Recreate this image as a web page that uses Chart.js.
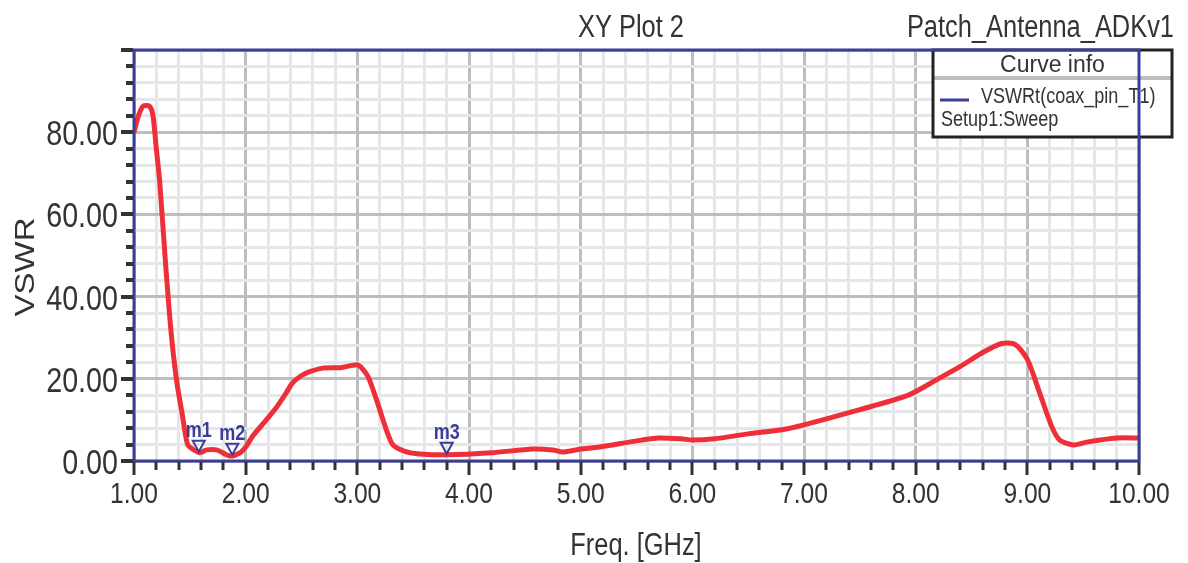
<!DOCTYPE html>
<html>
<head>
<meta charset="utf-8">
<title>XY Plot 2</title>
<script src="https://cdn.jsdelivr.net/npm/chart.js@4/dist/chart.umd.min.js"></script>
<style>
  html, body { margin: 0; padding: 0; background: #fff; }
  #wrap { width: 1188px; height: 563px; position: relative; }
</style>
</head>
<body>
<div id="wrap"><canvas id="plot"></canvas></div>
<script>
(function() {
    'use strict';

    // values
    const freqs = [1.00,1.04,1.08,1.14,1.17,1.20,1.23,1.28,1.33,1.38,1.43,1.48,1.53,1.59,1.65,1.74,1.86,1.95,2.00,2.07,2.17,2.28,2.35,2.42,2.50,2.58,2.69,2.85,3.00,3.05,3.10,3.18,3.27,3.32,3.44,3.56,3.80,4.20,4.57,4.75,4.84,5.00,5.17,5.50,5.70,5.90,6.00,6.20,6.50,6.80,7.00,7.50,7.94,8.19,8.40,8.60,8.77,8.89,9.00,9.11,9.22,9.29,9.41,9.53,9.80,10.00];
    const vswr  = [80,84,86.3,86.3,84,76,68,49,32,19.8,11.7,4.0,2.8,2.0,2.7,2.7,1.2,2.0,3.4,6.3,9.5,13.2,16,19,20.8,21.8,22.6,22.7,23.4,22.3,20.3,14.2,6.8,3.9,2.2,1.7,1.5,2.0,2.9,2.7,2.2,2.9,3.4,4.9,5.6,5.4,5.1,5.4,6.6,7.6,8.8,12.5,16.1,19.8,23,26.4,28.6,28.4,24.7,16.6,8.3,5.1,3.9,4.6,5.6,5.6];

    const markerNames = ['m1', 'm2', 'm3'];
    const markerFreqs = [1.58, 1.88, 3.80];
    const markerVals  = [2.0, 1.3, 1.5];

    const xTicks = [1, 2, 3, 4, 5, 6, 7, 8, 9, 10];
    const yTicks = [0, 20, 40, 60, 80];

    const plotTitle = 'XY Plot 2';
    const projectName = 'Patch_Antenna_ADKv1';
    const curveName = 'VSWRt(coax_pin_T1)';
    const setupName = 'Setup1:Sweep';
    const xTitle = 'Freq. [GHz]';
    const yTitle = 'VSWR';

    // no narrow font installed: squeeze Liberation Sans sideways instead
    const FONT = '"Liberation Sans", Arial, sans-serif';
    const NARROW = 0.82;
    const NAVY = '#3b3d99';
    const RED = '#ee2f3a';
    const MAJOR_GRID = '#bdbdbd';
    const MINOR_GRID = '#e5e6e8';
    const TEXT = '#333333';

    const isMajorX = v => xTicks.some(t => Math.abs(t - v) < 1e-6);
    const isMajorY = v => Math.round(v) % 20 === 0;

    function narrowText(ctx, str, x, y, font, align, sx, sy) {
        ctx.save();
        ctx.translate(x, y);
        ctx.scale(sx, sy);
        ctx.font = font;
        ctx.textAlign = align;
        ctx.textBaseline = 'alphabetic';
        ctx.fillText(str, 0, 0);
        ctx.restore();
    }

    // titles, tick labels, markers, legend box, frame and tick marks
    const decorations = {
        id: 'decorations',
        afterDatasetsDraw(chart) {
            const ctx = chart.ctx;
            const a = chart.chartArea;
            const xs = chart.scales.x, ys = chart.scales.y;
            ctx.save();

            // markers
            ctx.strokeStyle = NAVY;
            ctx.fillStyle = NAVY;
            ctx.lineWidth = 2;
            markerNames.forEach((name, i) => {
                const px = xs.getPixelForValue(markerFreqs[i]);
                const py = ys.getPixelForValue(markerVals[i]);
                ctx.beginPath();
                ctx.moveTo(px - 6, py - 12);
                ctx.lineTo(px + 6, py - 12);
                ctx.lineTo(px, py - 1);
                ctx.closePath();
                ctx.stroke();
                narrowText(ctx, name, px, py - 16, 'bold 22px ' + FONT, 'center', NARROW, 1);
            });

            // legend box
            const lx = 933, ly = 50, lw = 239, lh = 87;
            ctx.fillStyle = '#ffffff';
            ctx.fillRect(lx, ly, lw, lh);
            ctx.strokeStyle = '#bdbdbd';
            ctx.lineWidth = 4;
            ctx.beginPath();
            ctx.moveTo(lx, ly + 28);
            ctx.lineTo(lx + lw, ly + 28);
            ctx.stroke();
            ctx.strokeStyle = '#222222';
            ctx.lineWidth = 3;
            ctx.strokeRect(lx, ly, lw, lh);
            ctx.fillStyle = TEXT;
            narrowText(ctx, 'Curve info', lx + lw / 2, 72, '23px ' + FONT, 'center', 1, 1);
            narrowText(ctx, curveName, 981, 103, '22px ' + FONT, 'left', NARROW, 1);
            narrowText(ctx, setupName, 941, 126, '22px ' + FONT, 'left', NARROW, 1);
            ctx.strokeStyle = NAVY;
            ctx.lineWidth = 3;
            ctx.beginPath();
            ctx.moveTo(940, 100);
            ctx.lineTo(969, 100);
            ctx.stroke();

            // plot frame
            ctx.strokeStyle = NAVY;
            ctx.lineWidth = 3;
            ctx.strokeRect(a.left, a.top, a.right - a.left, a.bottom - a.top);

            // tick marks
            ctx.strokeStyle = '#333333';
            ctx.lineWidth = 4;
            for (let v = 0; v <= 100; v += 4) {
                const py = Math.round(ys.getPixelForValue(v));
                const len = isMajorY(v) ? 12 : 7;
                ctx.beginPath();
                ctx.moveTo(a.left - 1, py);
                ctx.lineTo(a.left - 1 - len, py);
                ctx.stroke();
            }
            ctx.lineWidth = 3;
            for (let k = 0; k <= 45; k++) {
                const v = 1 + k * 0.2;
                const px = Math.round(xs.getPixelForValue(v));
                const len = isMajorX(v) ? 13 : 8;
                ctx.beginPath();
                ctx.moveTo(px, a.bottom + 1);
                ctx.lineTo(px, a.bottom + 1 + len);
                ctx.stroke();
            }

            // tick labels
            ctx.fillStyle = TEXT;
            yTicks.forEach(v => {
                narrowText(ctx, v.toFixed(2), 118, ys.getPixelForValue(v) + 13, '35px ' + FONT, 'right', NARROW, 1);
            });
            xTicks.forEach(v => {
                narrowText(ctx, v.toFixed(2), xs.getPixelForValue(v), 503, '30px ' + FONT, 'center', NARROW, 1);
            });

            // titles
            narrowText(ctx, plotTitle, 631, 37, '31px ' + FONT, 'center', NARROW, 1);
            narrowText(ctx, projectName, 1174, 37, '31px ' + FONT, 'right', NARROW, 1);
            narrowText(ctx, xTitle, 636, 555, '31px ' + FONT, 'center', NARROW, 1);
            ctx.save();
            ctx.translate(34, 267);
            ctx.rotate(-Math.PI / 2);
            narrowText(ctx, yTitle, 0, 0, '33px ' + FONT, 'center', 1, NARROW);
            ctx.restore();

            ctx.restore();
        }
    };

    function initPlot() {
        const canvas = document.getElementById('plot');
        new Chart(canvas.getContext('2d'), {
            type: 'line',
            data: {
                datasets: [{
                    label: curveName,
                    data: freqs.map((f, i) => ({ x: f, y: vswr[i] })),
                    borderColor: RED,
                    borderWidth: 5,
                    pointRadius: 0,
                    tension: 0.25,
                    fill: false
                }]
            },
            options: {
                responsive: true,
                maintainAspectRatio: false,
                animation: false,
                layout: { padding: { top: 50, right: 49, left: 0, bottom: 0 } },
                plugins: { legend: { display: false }, tooltip: { enabled: false }, title: { display: false } },
                scales: {
                    x: {
                        type: 'linear',
                        min: 1, max: 10,
                        afterFit: s => { s.height = 102; },
                        afterBuildTicks: s => {
                            const t = [];
                            for (let k = 0; k <= 45; k++) t.push({ value: Math.round((1 + k * 0.2) * 10) / 10 });
                            s.ticks = t;
                        },
                        border: { display: false },
                        grid: {
                            drawTicks: false,
                            lineWidth: 3,
                            color: c => isMajorX(c.tick.value) ? MAJOR_GRID : MINOR_GRID
                        },
                        ticks: { autoSkip: false, maxRotation: 0, callback: () => '' }
                    },
                    y: {
                        type: 'linear',
                        min: 0, max: 100,
                        afterFit: s => { s.width = 134; },
                        border: { display: false },
                        grid: {
                            drawTicks: false,
                            lineWidth: 3,
                            color: c => isMajorY(c.tick.value) ? MAJOR_GRID : MINOR_GRID
                        },
                        ticks: { stepSize: 4, autoSkip: false, callback: () => '' }
                    }
                }
            },
            plugins: [decorations]
        });
    }

    if (document.readyState === 'loading') {
        document.addEventListener('DOMContentLoaded', initPlot);
    } else {
        initPlot();
    }
})();
</script>
</body>
</html>
